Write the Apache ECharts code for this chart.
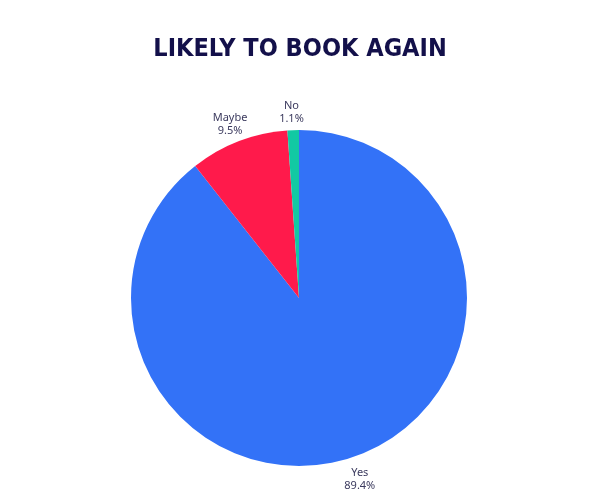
<!DOCTYPE html>
<html>
<head>
<meta charset="utf-8">
<script src="https://cdn.jsdelivr.net/npm/echarts@6/dist/echarts.min.js"></script>
<style>
  html, body { margin: 0; padding: 0; background: #fff; }
  #chart { width: 600px; height: 500px; }
</style>
</head>
<body>
<div id="chart"></div>
<script>
const categories = ['Yes', 'Maybe', 'No'];
const shares = [89.4, 9.5, 1.1];
const colors = ['#3372F7', '#FF1A4B', '#12C9A3'];

const chart = echarts.init(document.getElementById('chart'));

let pie_data = [];
for (let i = 0; i < categories.length; i++) {
    pie_data.push({ name: categories[i], value: shares[i], itemStyle: { color: colors[i] } });
}

const pie_center = [299, 298];

chart.setOption({
    title: {
        text: 'LIKELY TO BOOK AGAIN',
        left: 'center',
        top: 32,
        textStyle: {
            fontFamily: 'DejaVu Sans Condensed',
            fontWeight: 'bold',
            fontSize: 25,
            color: '#13104A'
        }
    },
    series: [{
        type: 'pie',
        center: pie_center,
        radius: 168,
        startAngle: 90,
        clockwise: true,
        animation: false,
        avoidLabelOverlap: false,
        data: pie_data,
        label: {
            position: 'outside',
            formatter: p => '{n|' + p.name + '}\n{n|' + p.value.toFixed(1) + '%}',
            rich: {
                n: {
                    fontFamily: 'Noto Sans',
                    fontSize: 11,
                    color: '#3B3A5E',
                    align: 'center',
                    lineHeight: 13
                }
            }
        },
        labelLine: { show: true, length: 21, length2: 0, lineStyle: { opacity: 0 } },
        // centre each label on the end of its (hidden) label line
        labelLayout: function (params) {
            if (!params.labelLinePoints) return {};
            const end = params.labelLinePoints[1];
            return { x: end[0] - 1, y: end[1] + 3, align: 'center', verticalAlign: 'middle' };
        }
    }]
});
</script>
</body>
</html>
